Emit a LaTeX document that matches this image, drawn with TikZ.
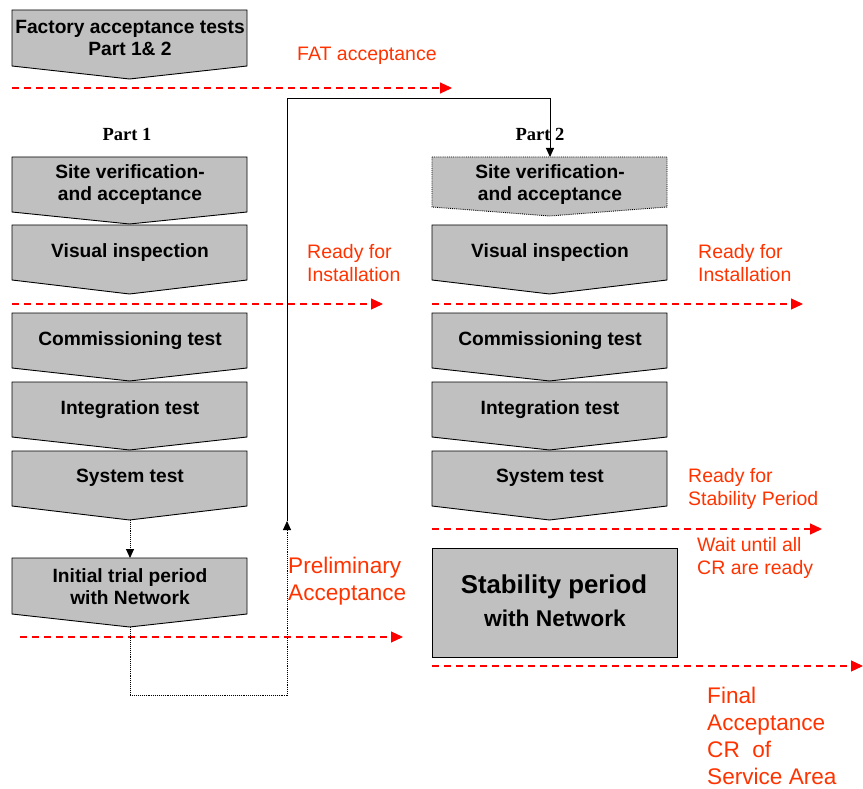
\documentclass[tikz,border=0pt]{standalone}
\usepackage{fontspec}
\setmainfont{Liberation Sans}
\newfontfamily\partfont{Liberation Serif}
\usetikzlibrary{arrows.meta}
\definecolor{boxgray}{RGB}{192,192,192}
\definecolor{lblred}{RGB}{255,51,0}
\definecolor{lnred}{RGB}{255,0,0}
\newcommand\chevbox[6]{% style, x1, x2, top, side, tip
  \draw[#1] (#2,#4) -- (#3,#4) -- (#3,#5) -- ({(#2+#3)/2},#6) -- (#2,#5) -- cycle;}
\tikzset{
  chev/.style={draw=black, fill=boxgray, line width=0.9pt},
  chevdot/.style={draw=black, fill=boxgray, line width=0.9pt, densely dotted},
  boxtxt/.style={inner sep=0pt, align=center, font=\fontsize{19.2}{22}\selectfont\bfseries},
  redtxt/.style={inner sep=0pt, anchor=west, align=left, text=lblred, font=\fontsize{19.5}{23}\selectfont},
  bigred/.style={inner sep=0pt, anchor=west, align=left, text=lblred, font=\fontsize{22.6}{27}\selectfont},
  parttxt/.style={inner sep=0pt, font=\fontsize{18.5}{20}\selectfont\partfont\bfseries},
  redline/.style={draw=lnred, line width=1.1pt, dash pattern=on 7pt off 5pt, -{Triangle[length=12pt,width=11pt]}},
  blkarrow/.style={-{Triangle[length=9pt,width=8pt]}},
  link/.style={draw=black, line width=0.9pt},
  dotlink/.style={draw=black, line width=0.9pt, densely dotted}
}
\begin{document}
\begin{tikzpicture}[x=1pt,y=-1pt]
\useasboundingbox (0,0) rectangle (863,789);
% ---- left column boxes
\chevbox{chev}{12}{247}{10}{66}{79}
\chevbox{chev}{12}{247}{157}{212}{224}
\chevbox{chev}{12}{247}{225}{280}{294}
\chevbox{chev}{12}{247}{313}{368}{381}
\chevbox{chev}{12}{247}{382}{437}{450}
\chevbox{chev}{12}{247}{451}{506}{520}
\chevbox{chev}{12}{247}{558}{614}{627}
% ---- right column boxes
\chevbox{chevdot}{432}{667}{157}{207}{216}
\chevbox{chev}{432}{667}{225}{280}{294}
\chevbox{chev}{432}{667}{313}{368}{381}
\chevbox{chev}{432}{667}{382}{437}{450}
\chevbox{chev}{432}{667}{451}{506}{520}
\draw[chev] (432,548) rectangle (677,657);
% ---- box texts
\node[boxtxt] (fat) at (130,38) {Factory acceptance tests\\Part 1\& 2};
\node[boxtxt] (siteL) at (130,185) {Site verification-\\and acceptance};
\node[boxtxt] (visL) at (130,253) {Visual inspection};
\node[boxtxt] (comL) at (130,341) {Commissioning test};
\node[boxtxt] (intL) at (130,410) {Integration test};
\node[boxtxt] (sysL) at (130,478) {System test};
\node[boxtxt] (initL) at (130,587) {Initial trial period\\with Network};
\node[boxtxt] (siteR) at (550,185) {Site verification-\\and acceptance};
\node[boxtxt] (visR) at (550,253) {Visual inspection};
\node[boxtxt] (comR) at (550,341) {Commissioning test};
\node[boxtxt] (intR) at (550,410) {Integration test};
\node[boxtxt] (sysR) at (550,478) {System test};
\node[inner sep=0pt, font=\fontsize{25.8}{30}\selectfont\bfseries] (stab1) at (554,587) {Stability period};
\node[inner sep=0pt, font=\fontsize{22.8}{27}\selectfont\bfseries] (stab2) at (555,618) {with Network};
% ---- part labels
\node[parttxt] (p1) at (127,134) {Part 1};
\node[parttxt] (p2) at (540,134) {Part 2};
% ---- red labels
\node[redtxt] (fatacc) at (297,56) {FAT acceptance};
\node[redtxt] (rfiL) at (307,263.5) {Ready for\\Installation};
\node[redtxt] (rfiR) at (698,263.5) {Ready for\\Installation};
\node[redtxt] (rfs) at (688,488.5) {Ready for\\Stability Period};
\node[redtxt] (wait) at (697,557.5) {Wait until all\\CR are ready};
\node[bigred] (prelim) at (288,581.5) {Preliminary\\Acceptance};
\node[bigred] (final) at (707,736) {Final\\Acceptance\\CR\ \ of\\Service Area};
% ---- red dashed milestone lines
\coordinate (m1a) at (12,88);   \coordinate (m1b) at (452,88);
\coordinate (m2a) at (12,304);  \coordinate (m2b) at (383,304);
\coordinate (m3a) at (432,304); \coordinate (m3b) at (803,304);
\coordinate (m4a) at (432,529); \coordinate (m4b) at (822,529);
\coordinate (m5a) at (20,637);  \coordinate (m5b) at (403,637);
\coordinate (m6a) at (432,666); \coordinate (m6b) at (863,666);
\draw[redline] (m1a) -- (m1b);
\draw[redline] (m2a) -- (m2b);
\draw[redline] (m3a) -- (m3b);
\draw[redline] (m4a) -- (m4b);
\draw[redline] (m5a) -- (m5b);
\draw[redline] (m6a) -- (m6b);
% ---- connectors
\coordinate (sysLtip) at (130,520);
\coordinate (initLtop) at (130,558);
\coordinate (initLtip) at (130,627);
\coordinate (b1) at (130,695);
\coordinate (b2) at (287,695);
\coordinate (junc) at (287,521);
\coordinate (t1) at (287,98);
\coordinate (t2) at (550,98);
\coordinate (siteRtop) at (550,157);
\draw[dotlink, blkarrow] (sysLtip) -- (initLtop);
\draw[dotlink, blkarrow] (initLtip) -- (b1) -- (b2) -- (junc);
\draw[link, blkarrow] (junc) -- (t1) -- (t2) -- (siteRtop);
\end{tikzpicture}
\end{document}
